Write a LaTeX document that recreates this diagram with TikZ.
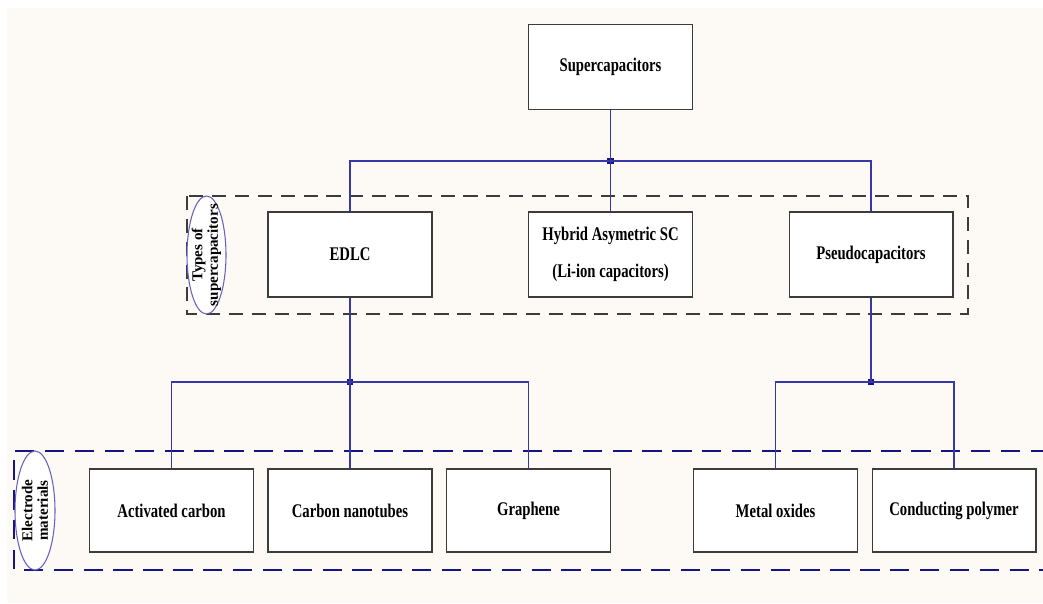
\documentclass[tikz,border=0pt]{standalone}
\usepackage{fontspec}
\setmainfont{Liberation Serif}
\newfontfamily\boxfont{Liberation Serif}[FakeStretch=0.76]
\usetikzlibrary{positioning,shapes.geometric}
\definecolor{paper}{RGB}{253,250,245}
\definecolor{wire}{RGB}{55,55,165}
\definecolor{wiredark}{RGB}{20,20,130}
\definecolor{ringcol}{RGB}{105,95,190}
\definecolor{edgecol}{RGB}{60,60,60}
\begin{document}
\begin{tikzpicture}[x=0.02cm,y=-0.02cm,
  catbox/.style={draw=edgecol,fill=white,line width=0.6pt,inner sep=0pt,
    minimum width=3.28cm,minimum height=1.7cm,align=center,
    font=\boxfont\fontsize{11}{13}\selectfont\bfseries},
  matbox/.style={catbox,minimum height=1.66cm},
  tag/.style={rotate=90,inner sep=0pt,align=center,
    font=\fontsize{8.6}{8.8}\selectfont\bfseries},
  ring/.style={draw=ringcol,fill=white,line width=0.6pt},
  wireline/.style={wire,line width=0.8pt},
  joint/.style={fill=wiredark,minimum size=3.5pt,inner sep=0pt}]
  %paper
  \useasboundingbox (0,0) rectangle (1043,603);
  \fill[paper] (7,8) rectangle (1043,603);
  %group frames
  \draw[edgecol,line width=0.7pt,dash pattern=on 8pt off 5pt] (187,196) rectangle (968,314);
  \draw[wiredark,line width=0.7pt,dash pattern=on 11pt off 6pt] (1050,451) -- (14,451) -- (14,570) -- (1050,570);
  \draw[ring] (206.5,255) ellipse [x radius=0.39cm,y radius=1.18cm];
  \draw[ring] (35,510.5) ellipse [x radius=0.4cm,y radius=1.19cm];
  \node[tag] (typetag) at (206.5,255) {Types of\\supercapacitors};
  \node[tag] (matstag) at (35,510.5) {Electrode\\materials};
  %boxes
  \node[catbox] (super) at (610.5,67) {Supercapacitors};
  \node[catbox] (edlc) at (350,254.5) {EDLC};
  \node[catbox] (hybrid) at (610.5,254.5) {Hybrid Asymetric SC\\[8pt](Li-ion capacitors)};
  \node[catbox] (pseudo) at (871,254.5) {Pseudocapacitors};
  \node[matbox] (activ) at (171.5,510.5) {Activated carbon};
  \node[matbox] (tubes) at (350,510.5) {Carbon nanotubes};
  \node[matbox] (graph) at (528.5,510.5) {Graphene};
  \node[matbox] (oxide) at (775.5,510.5) {Metal oxides};
  \node[matbox] (polym) at (954,510.5) {Conducting polymer};
  %joints
  \node[joint] (jtop) at (610.5,161) {};
  \node[joint] (jedlc) at (350,382) {};
  \node[joint] (jpseudo) at (871,382) {};
  %wires
  \draw[wireline] (super.south) -- (jtop.center) -- (hybrid.north);
  \draw[wireline] (edlc.north) |- (jtop.center) -| (pseudo.north);
  \draw[wireline] (edlc.south) -- (jedlc.center) -- (tubes.north);
  \draw[wireline] (activ.north) |- (jedlc.center) -| (graph.north);
  \draw[wireline] (pseudo.south) -- (jpseudo.center);
  \draw[wireline] (oxide.north) |- (jpseudo.center) -| (polym.north);
\end{tikzpicture}
\end{document}
